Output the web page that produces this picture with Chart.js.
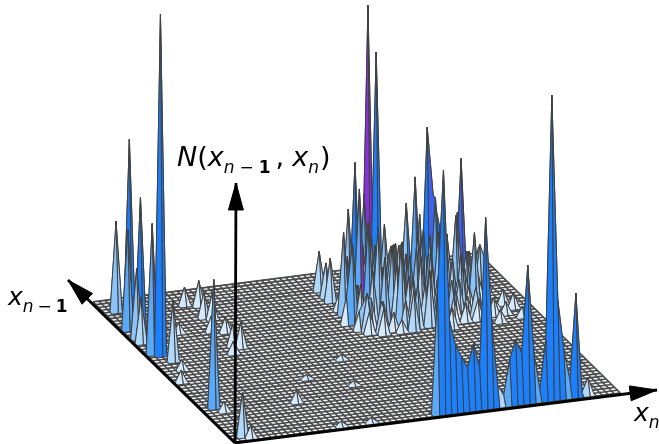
<!DOCTYPE html>
<html>
<head>
<meta charset="utf-8">
<script src="https://cdn.jsdelivr.net/npm/chart.js@4/dist/chart.umd.min.js"></script>
<style>
    html, body { margin: 0; padding: 0; background: #fff; }
    #wrap { position: relative; width: 659px; height: 444px; overflow: hidden; }
    canvas { position: absolute; left: 0; top: 0; }
    .lbl { position: absolute; font-family: "DejaVu Sans", sans-serif; font-style: italic; font-size: 25px; line-height: 30px; color: #000; white-space: nowrap; }
    .lbl sub { font-size: 17px; line-height: 0; vertical-align: -7px; }
    .lbl b { font-style: normal; }
    .lbl .m { font-style: normal; margin: 0 4px; }
    .lbl .r { font-style: normal; }
</style>
</head>
<body>
<div id="wrap">
    <canvas id="surface" width="659" height="444"></canvas>
    <div class="lbl" style="left:177px;top:142px;font-size:27px">N<span class="r">(</span>x<sub>n<span class="m" style="margin:0 5px">−</span><b>1</b></sub><span class="r" style="margin:0 8px 0 5px">,</span>x<sub>n</sub><span class="r" style="margin-left:1px">)</span></div>
    <div class="lbl" style="left:8px;top:282px">x<sub>n<span class="m">−</span><b>1</b></sub></div>
    <div class="lbl" style="left:634px;top:398px">x<sub>n</sub></div>
</div>
<script>
// Grid size of the histogram, the floor is ruled a bit coarser across the rows
var gridCols = 64;
var gridRows = 64;
var floorRows = 50;

// Row 1 ridge along the front edge, first entry is column 34
var ridgeStartCol = 34;
var ridgeRow = 1;
var ridgeN = [120, 243, 92, 66, 54, 42, 66, 41, 190, 87, 21, 10, 45, 64, 50, 137, 50, 11, 60, 304, 98, 48, 17, 103, 3, 17];

// Isolated peaks
var peakCols = [2, 2, 2, 2, 1, 1, 3, 1, 1, 3, 2, 2, 3,
    13, 15, 14, 15, 13, 15, 14, 15, 13, 8, 3, 1, 3, 15, 18, 23, 26, 20, 28,
    42, 43, 41, 44, 38, 38, 38, 38, 40, 35, 35, 35, 35, 35, 35, 36, 36, 34, 38,
    38, 41, 43, 44, 46, 42, 40, 48, 49, 48, 49, 50, 51, 51, 55, 56, 59, 57, 58,
    48, 44, 46, 41, 44, 46, 52, 54, 50, 52, 48, 50, 53, 56, 58, 58, 60, 59, 57, 61, 61, 49, 57];
var peakRows = [39, 48, 53, 59, 45, 40, 36, 51, 47, 52, 15, 2, 1,
    58, 57, 52, 51, 46, 45, 39, 38, 36, 47, 32, 27, 13, 13, 1, 1, 17, 22, 28,
    54, 53, 53, 52, 49, 47, 52, 43, 44, 46, 42, 57, 54, 52, 48, 38, 39, 42, 37,
    36, 36, 36, 37, 37, 39, 41, 49, 48, 53, 52, 49, 49, 48, 49, 50, 47, 49, 48,
    42, 44, 46, 48, 50, 54, 40, 38, 44, 46, 38, 38, 42, 44, 47, 40, 42, 38, 38, 40, 36, 35, 35];
var peakN = [341, 138, 185, 90, 45, 130, 60, 100, 70, 50, 128, 44, 12,
    18, 25, 25, 25, 15, 15, 22, 25, 12, 10, 10, 12, 10, 12, 5, 5, 4, 4, 5,
    286, 241, 100, 70, 143, 121, 90, 96, 88, 82, 80, 39, 34, 43, 17, 38, 30, 27, 30,
    25, 12, 40, 43, 55, 80, 64, 121, 70, 86, 70, 169, 100, 100, 80, 131, 32, 40, 42,
    60, 70, 50, 60, 45, 40, 35, 30, 75, 60, 50, 40, 55, 70, 50, 10, 15, 12, 18, 15, 10, 20, 12];

// Lower counts packed inside the central block, listed row by row
var blockRows = [37, 39, 41, 43, 45, 47, 49, 51];
var blockCols = [
    [36, 40, 42, 48, 50, 52, 54],
    [35, 37, 39, 44, 46, 48, 51, 53, 55],
    [36, 38, 42, 44, 46, 50, 52, 54, 57],
    [36, 42, 44, 46, 48, 52, 54],
    [37, 39, 41, 43, 45, 47, 49, 51, 55, 57],
    [36, 40, 44, 48, 52, 54, 56],
    [36, 44, 52],
    [40, 46, 54]
];
var blockN = [
    [22, 18, 28, 30, 25, 18, 20],
    [18, 30, 25, 45, 38, 40, 28, 20, 15],
    [40, 52, 55, 42, 60, 58, 30, 25, 12],
    [35, 70, 40, 65, 55, 48, 38],
    [30, 60, 45, 66, 55, 75, 70, 58, 50, 25],
    [55, 72, 62, 88, 70, 82, 45],
    [40, 55, 70],
    [55, 50, 55]
];

// Colour bands by mean height of a facet
var bandLimits = [8, 16, 24, 33, 110, 125];
var bandColors = ['#d4e9fb', '#b0d8fb', '#8cc4fa', '#5aa9f8', '#1a80fd', '#3d62ee', '#8a2fe0'];
var frontRowBoost = 2;
var frontRowTopBand = 4;

// Facets shaded violet or indigo in the picture, beyond what the mean gives
var accentCols = [42, 38, 41, 50, 55, 56];
var accentRows = [53, 46, 53, 48, 49, 49];
var accentBands = [6, 6, 6, 5, 5, 5];

// Axis projection: screen position of the grid origin and one cell step
var origin = { x: 235, y: 442 };
var colStep = { x: 6.02, y: -0.766 };
var rowStep = { x: -2.22, y: -2.19 };

function project(col, row, n) {
    return {
        x: origin.x + col * colStep.x + row * rowStep.x,
        y: origin.y + col * colStep.y + row * rowStep.y - n
    };
}

var heights = {};
ridgeN.forEach(function(n, k) {
    heights[(ridgeStartCol + k) + ',' + ridgeRow] = n;
});
peakCols.forEach(function(col, k) {
    heights[col + ',' + peakRows[k]] = peakN[k];
});
blockRows.forEach(function(row, k) {
    blockCols[k].forEach(function(col, m) {
        heights[col + ',' + row] = blockN[k][m];
    });
});
function heightAt(col, row) {
    return heights[col + ',' + row] || 0;
}

var accents = {};
accentCols.forEach(function(col, k) {
    accents[col + ',' + accentRows[k]] = accentBands[k];
});

function bandIndex(mean) {
    for (var b = 0; b < bandLimits.length; b++) {
        if (mean < bandLimits[b]) return b;
    }
    return bandLimits.length;
}

function polygonSet(points, fillColor, lineColor, lineWidth) {
    return {
        data: points,
        showLine: true,
        fill: fillColor ? 'shape' : false,
        backgroundColor: fillColor || 'transparent',
        borderColor: lineColor,
        borderWidth: lineWidth,
        borderJoinStyle: 'bevel',
        pointRadius: 0,
        tension: 0
    };
}

function arrowHead(tail, tip, length, halfWidth) {
    var dx = tip.x - tail.x, dy = tip.y - tail.y;
    var len = Math.sqrt(dx * dx + dy * dy);
    var ux = dx / len, uy = dy / len;
    var bx = tip.x - ux * length, by = tip.y - uy * length;
    return [tip, { x: bx - uy * halfWidth, y: by + ux * halfWidth }, { x: bx + uy * halfWidth, y: by - ux * halfWidth }, tip];
}

// Drawn back to front, so the list is reversed at the end
var layers = [];

// Floor plate and its grid
layers.push(polygonSet([project(0, 0, 0), project(gridCols, 0, 0), project(gridCols, gridRows, 0), project(0, gridRows, 0), project(0, 0, 0)], '#f7fafd', '#404040', 1));
for (var c = 0; c <= gridCols; c++) {
    layers.push(polygonSet([project(c, 0, 0), project(c, gridRows, 0)], null, '#4a4a4a', 1.6));
}
for (var r = 0; r <= floorRows; r++) {
    layers.push(polygonSet([project(0, r * gridRows / floorRows, 0), project(gridCols, r * gridRows / floorRows, 0)], null, '#4a4a4a', 1.6));
}

// Raised facets, far corner first
for (var i = gridCols - 1; i >= 0; i--) {
    for (var j = gridRows - 1; j >= 0; j--) {
        var h00 = heightAt(i, j), h10 = heightAt(i + 1, j), h11 = heightAt(i + 1, j + 1), h01 = heightAt(i, j + 1);
        if (h00 + h10 + h11 + h01 === 0) continue;
        var mean = (h00 + h10 + h11 + h01) / 4;
        var band = bandIndex(mean);
        if (j === 0 && i >= ridgeStartCol && h11 > 0 && h01 > 0) {
            band = Math.min(bandIndex(mean * frontRowBoost), frontRowTopBand);
        }
        if (accents[i + ',' + j] !== undefined) band = accents[i + ',' + j];
        var facet = [project(i, j, h00), project(i + 1, j, h10), project(i + 1, j + 1, h11), project(i, j + 1, h01), project(i, j, h00)];
        layers.push(polygonSet(facet, bandColors[band], '#404040', 1));
    }
}

// Axis arrows
var corner = { x: 235, y: 443 };
var tipCol = { x: 657, y: 390 };
var tipRow = { x: 68, y: 280 };
var tipN = { x: 236, y: 183 };
[tipCol, tipRow, tipN].forEach(function(tip) {
    layers.push(polygonSet([corner, tip], null, '#000', 2.8));
    layers.push(polygonSet(arrowHead(corner, tip, 27, 7.5), '#000', '#000', 1));
});

new Chart(document.getElementById('surface').getContext('2d'), {
    type: 'scatter',
    data: { datasets: layers.reverse() },
    options: {
        responsive: false,
        animation: false,
        events: [],
        layout: { padding: 0 },
        plugins: { legend: { display: false }, tooltip: { enabled: false }, title: { display: false } },
        scales: {
            x: { type: 'linear', min: 0, max: 659, display: false },
            y: { type: 'linear', min: 0, max: 444, reverse: true, display: false }
        }
    }
});
</script>
</body>
</html>
